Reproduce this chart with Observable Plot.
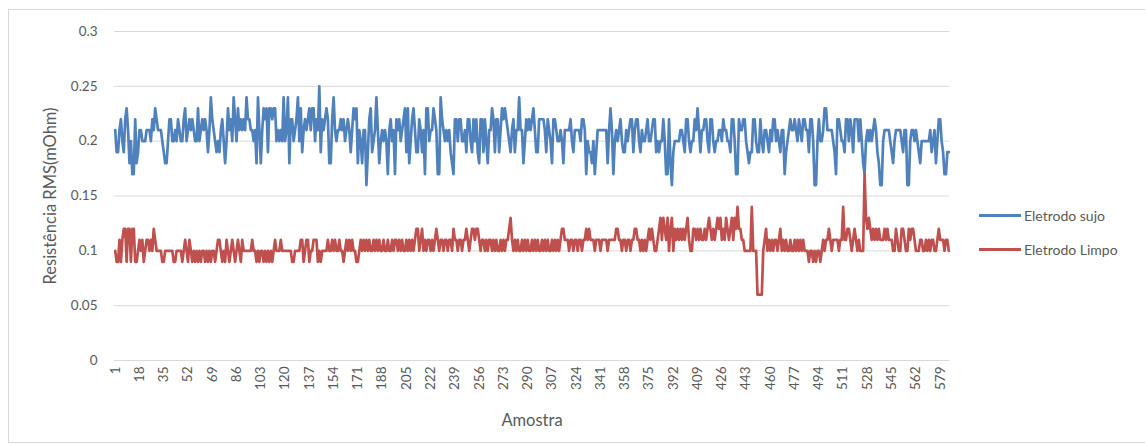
<!DOCTYPE html>
<html><head><meta charset="utf-8">
<script src="https://cdn.jsdelivr.net/npm/d3@7"></script>
<script src="https://cdn.jsdelivr.net/npm/@observablehq/plot@0.6"></script>
<style>
body{margin:0;background:#fff;font-family:Lato,"Open Sans",sans-serif;}
#wrap{position:relative;width:1145px;height:445px;overflow:hidden;}
#frame{position:absolute;left:8px;top:9px;width:1150px;height:434px;border:1px solid #d9d9d9;box-sizing:border-box;}
#chart{position:absolute;left:0;top:0;}
.leg{position:absolute;left:979px;height:18px;font-size:14px;color:#595959;display:flex;align-items:center;white-space:nowrap;}
.leg span{display:inline-block;width:42px;height:3px;margin-right:3px;}
</style></head><body><div id="wrap"><div id="frame"></div><div id="chart"></div></div>
<script>
const seriesNames = ["Eletrodo sujo", "Eletrodo Limpo"];
const seriesColors = ["#4f81bd", "#c0504d"];
const xTicks = [1,18,35,52,69,86,103,120,137,154,171,188,205,222,239,256,273,290,307,324,341,358,375,392,409,426,443,460,477,494,511,528,545,562,579];
const yTicks = [0, 0.05, 0.1, 0.15, 0.2, 0.25, 0.3];

// Eletrodo sujo (samples 1..585)
const sujo = [
0.21,0.19,0.19,0.21,0.22,0.20,0.19,0.22,0.23,0.21,0.18,0.20,0.17,0.17,0.22,0.18,0.19,0.21,0.21,0.20,
0.20,0.20,0.21,0.21,0.21,0.20,0.22,0.21,0.23,0.22,0.21,0.21,0.21,0.20,0.19,0.18,0.18,0.20,0.22,0.22,
0.20,0.20,0.21,0.20,0.22,0.21,0.20,0.20,0.22,0.23,
0.20,0.21,0.22,0.21,0.22,0.21,0.20,0.20,0.23,0.20,0.21,0.22,0.21,0.22,0.21,0.19,0.21,0.24,0.22,0.21,
0.20,0.19,0.20,0.19,0.21,0.22,0.20,0.18,0.20,0.23,0.21,0.22,0.20,0.24,0.22,0.20,0.23,0.21,0.22,0.21,
0.22,0.21,0.24,0.22,0.22,0.21,0.21,0.20,0.21,0.18,0.24,0.21,0.18,0.21,
0.23,0.22,0.23,0.19,0.23,0.23,0.22,0.23,0.23,0.20,0.21,0.20,0.21,0.20,0.24,0.20,0.21,0.24,0.18,0.22,
0.22,0.20,0.21,0.22,0.24,0.20,0.23,0.19,0.21,0.22,0.21,0.22,0.23,0.21,0.23,0.23,0.20,0.22,0.21,0.25,
0.19,0.22,0.21,0.22,0.23,0.22,0.18,0.18,0.22,0.24,0.21,0.20,0.21,
0.21,0.22,0.21,0.22,0.20,0.21,0.22,0.21,0.19,0.21,0.23,0.22,0.23,0.18,0.21,0.20,0.18,0.21,0.21,0.16,
0.19,0.22,0.23,0.19,0.20,0.21,0.24,0.21,0.18,0.20,0.21,0.20,0.21,0.20,0.17,0.21,0.22,0.20,0.21,0.17,
0.22,0.21,0.22,0.20,0.21,0.22,0.23,0.19,0.23,0.18,0.20,0.22,0.23,0.21,
0.19,0.19,0.22,0.21,0.19,0.21,0.17,0.23,0.23,0.20,0.21,0.21,0.23,0.22,0.21,0.17,0.17,0.24,0.22,0.21,
0.20,0.21,0.20,0.21,0.19,0.18,0.17,0.22,0.22,0.20,0.22,0.22,0.20,0.20,0.21,0.19,0.22,0.22,0.20,0.19,
0.22,0.20,0.22,0.19,0.18,0.22,0.22,0.19,0.22,0.20,0.18,0.21,0.21,
0.23,0.22,0.19,0.22,0.22,0.19,0.21,0.23,0.22,0.23,0.22,0.21,0.20,0.19,0.21,0.22,0.19,0.21,0.21,0.24,
0.21,0.21,0.18,0.20,0.22,0.21,0.22,0.21,0.22,0.23,0.21,0.19,0.19,0.22,0.22,0.22,0.22,0.21,0.19,0.22,
0.21,0.20,0.18,0.22,0.22,0.21,0.20,0.20,0.21,0.20,0.18,0.21,0.21,
0.21,0.21,0.22,0.20,0.19,0.21,0.21,0.21,0.21,0.20,0.22,0.22,0.21,0.17,0.20,0.19,0.19,0.18,0.20,0.17,
0.19,0.21,0.21,0.21,0.21,0.21,0.21,0.21,0.18,0.21,0.23,0.21,0.17,0.20,0.21,0.20,0.21,0.22,0.20,0.19,
0.19,0.21,0.20,0.21,0.22,0.22,0.19,0.21,0.22,0.22,0.20,0.19,0.21,0.20,
0.20,0.21,0.22,0.20,0.20,0.21,0.22,0.22,0.19,0.20,0.19,0.20,0.20,0.22,0.20,0.17,0.17,0.22,0.18,0.16,
0.19,0.20,0.20,0.20,0.20,0.21,0.21,0.20,0.19,0.22,0.22,0.20,0.19,0.20,0.20,0.22,0.21,0.23,0.21,0.19,
0.21,0.21,0.22,0.22,0.20,0.19,0.22,0.22,0.20,0.19,0.20,0.20,0.21,
0.21,0.20,0.22,0.21,0.21,0.20,0.20,0.19,0.22,0.22,0.20,0.17,0.17,0.22,0.21,0.21,0.22,0.22,0.20,0.19,
0.18,0.19,0.19,0.22,0.22,0.20,0.19,0.19,0.22,0.20,0.19,0.21,0.21,0.20,0.19,0.21,0.20,0.22,0.22,0.20,
0.21,0.20,0.19,0.21,0.21,0.17,0.19,0.20,0.21,0.22,0.21,0.21,0.22,
0.21,0.20,0.22,0.21,0.20,0.22,0.22,0.21,0.21,0.19,0.22,0.22,0.20,0.16,0.16,0.20,0.22,0.20,0.20,0.21,
0.23,0.23,0.21,0.21,0.21,0.21,0.20,0.19,0.17,0.22,0.22,0.21,0.20,0.20,0.19,0.22,0.22,0.20,0.22,0.21,
0.19,0.22,0.22,0.22,0.20,0.22,0.20,0.18,0.17,0.20,0.21,0.20,0.21,0.20,
0.21,0.22,0.21,0.19,0.18,0.16,0.16,0.20,0.21,0.21,0.21,0.21,0.20,0.19,0.18,0.20,0.21,0.21,0.21,0.21,
0.20,0.19,0.21,0.21,0.16,0.16,0.20,0.21,0.21,0.20,0.21,0.20,0.19,0.18,0.20,0.20,0.20,0.20,0.20,0.20,
0.21,0.19,0.20,0.21,0.18,0.20,0.22,0.22,0.20,0.19,0.17,0.17,0.19,0.19
];

// Eletrodo Limpo (samples 1..585)
const limpo = [
0.10,0.09,0.09,0.11,0.09,0.11,0.12,0.12,0.09,0.12,0.12,0.09,0.12,0.12,0.09,0.09,0.10,0.11,0.10,0.11,
0.09,0.10,0.11,0.11,0.10,0.11,0.10,0.12,0.11,0.10,0.10,0.10,0.10,0.09,0.09,0.10,0.10,0.10,0.10,0.10,
0.10,0.09,0.09,0.10,0.10,0.10,0.10,0.09,0.10,0.11,
0.10,0.09,0.11,0.10,0.09,0.10,0.09,0.10,0.09,0.10,0.09,0.10,0.10,0.09,0.10,0.09,0.10,0.09,0.10,0.10,
0.09,0.10,0.11,0.11,0.10,0.09,0.10,0.09,0.11,0.10,0.09,0.10,0.11,0.10,0.09,0.10,0.11,0.10,0.09,0.11,
0.10,0.10,0.10,0.10,0.10,0.10,0.11,0.10,0.10,0.09,0.10,0.09,0.10,0.10,
0.09,0.10,0.09,0.10,0.09,0.10,0.09,0.10,0.11,0.10,0.10,0.10,0.11,0.10,0.10,0.10,0.10,0.10,0.10,0.10,
0.09,0.09,0.10,0.10,0.10,0.10,0.11,0.11,0.09,0.10,0.11,0.11,0.09,0.10,0.10,0.11,0.11,0.11,0.09,0.10,
0.09,0.10,0.10,0.10,0.10,0.11,0.10,0.10,0.11,0.10,0.11,0.10,0.10,
0.11,0.10,0.10,0.09,0.10,0.11,0.10,0.11,0.10,0.11,0.10,0.10,0.09,0.09,0.10,0.11,0.10,0.11,0.10,0.11,
0.10,0.11,0.10,0.10,0.11,0.10,0.11,0.10,0.11,0.10,0.10,0.11,0.10,0.10,0.11,0.10,0.10,0.11,0.10,0.11,
0.11,0.10,0.11,0.10,0.11,0.10,0.10,0.11,0.10,0.11,0.10,0.11,0.10,0.11,
0.12,0.12,0.10,0.11,0.12,0.10,0.11,0.10,0.11,0.11,0.10,0.11,0.10,0.11,0.12,0.11,0.10,0.11,0.11,0.10,
0.11,0.11,0.10,0.11,0.11,0.10,0.12,0.11,0.11,0.10,0.11,0.11,0.10,0.11,0.11,0.12,0.11,0.10,0.11,0.12,
0.12,0.11,0.12,0.12,0.11,0.10,0.11,0.11,0.10,0.11,0.10,0.11,0.11,
0.10,0.11,0.10,0.11,0.10,0.10,0.11,0.10,0.11,0.10,0.11,0.11,0.12,0.13,0.11,0.10,0.11,0.10,0.11,0.10,
0.10,0.11,0.10,0.11,0.10,0.11,0.10,0.10,0.11,0.10,0.11,0.10,0.11,0.10,0.10,0.11,0.10,0.11,0.10,0.11,
0.10,0.10,0.11,0.10,0.11,0.10,0.11,0.10,0.11,0.12,0.12,0.11,0.11,
0.11,0.10,0.11,0.11,0.10,0.11,0.11,0.10,0.11,0.11,0.10,0.11,0.11,0.12,0.11,0.12,0.11,0.11,0.11,0.10,
0.11,0.11,0.11,0.10,0.11,0.11,0.11,0.11,0.10,0.11,0.11,0.11,0.11,0.11,0.12,0.12,0.11,0.11,0.10,0.11,
0.11,0.10,0.11,0.11,0.10,0.11,0.11,0.12,0.12,0.11,0.11,0.10,0.11,0.10,
0.11,0.10,0.11,0.12,0.11,0.12,0.11,0.10,0.10,0.11,0.12,0.13,0.11,0.13,0.12,0.11,0.13,0.10,0.12,0.13,
0.10,0.12,0.11,0.12,0.11,0.12,0.11,0.12,0.11,0.12,0.13,0.11,0.10,0.10,0.12,0.12,0.11,0.12,0.11,0.12,
0.11,0.11,0.12,0.11,0.12,0.13,0.12,0.11,0.12,0.11,0.12,0.13,0.12,
0.13,0.11,0.12,0.11,0.13,0.12,0.11,0.12,0.13,0.11,0.13,0.12,0.14,0.12,0.12,0.11,0.11,0.10,0.10,0.10,
0.10,0.10,0.14,0.10,0.10,0.10,0.06,0.06,0.06,0.06,0.10,0.11,0.12,0.10,0.11,0.10,0.11,0.10,0.11,0.11,
0.10,0.11,0.12,0.10,0.11,0.10,0.11,0.10,0.10,0.11,0.10,0.10,0.11,
0.10,0.11,0.10,0.11,0.10,0.11,0.10,0.10,0.10,0.09,0.10,0.10,0.09,0.10,0.09,0.10,0.10,0.09,0.10,0.11,
0.10,0.11,0.11,0.12,0.11,0.10,0.11,0.11,0.11,0.11,0.10,0.11,0.11,0.14,0.11,0.11,0.12,0.12,0.11,0.10,
0.11,0.12,0.11,0.10,0.11,0.10,0.10,0.10,0.17,0.13,0.12,0.13,0.12,0.11,
0.12,0.11,0.12,0.11,0.12,0.11,0.11,0.11,0.12,0.11,0.12,0.11,0.11,0.11,0.10,0.10,0.12,0.11,0.10,0.10,
0.12,0.12,0.11,0.10,0.10,0.12,0.11,0.12,0.12,0.11,0.10,0.10,0.10,0.11,0.11,0.10,0.10,0.11,0.10,0.11,
0.10,0.11,0.11,0.10,0.10,0.11,0.12,0.11,0.11,0.11,0.10,0.11,0.11,0.10
];

const data = [];
sujo.forEach((v, i) => data.push({amostra: i + 1, valor: v, serie: seriesNames[0]}));
limpo.forEach((v, i) => data.push({amostra: i + 1, valor: v, serie: seriesNames[1]}));

const chart = Plot.plot({
  width: 1145, height: 445,
  marginLeft: 114, marginRight: 196, marginTop: 31, marginBottom: 85,
  style: {fontFamily: "Lato, 'Open Sans', sans-serif", fontSize: "13.5px", color: "#595959", background: "transparent"},
  x: {domain: [0.5, sujo.length + 0.5]},
  y: {domain: [0, 0.3]},
  color: {domain: seriesNames, range: seriesColors},
  marks: [
    Plot.gridY(yTicks, {stroke: "#d9d9d9", strokeOpacity: 1, strokeWidth: 1}),
    Plot.axisY(yTicks, {tickSize: 0, tickPadding: 17, tickFormat: d => String(+d.toFixed(2)),
      label: "Resistência RMS(mOhm)", labelAnchor: "center", labelArrow: "none", labelOffset: 70}),
    Plot.axisX(xTicks, {tickSize: 0, tickRotate: -90, tickPadding: 6,
      label: "Amostra", labelAnchor: "center", labelArrow: "none", labelOffset: 65}),
    Plot.line(data, {x: "amostra", y: "valor", z: "serie", stroke: "serie", strokeWidth: 2.7, strokeLinejoin: "round", strokeLinecap: "round"})
  ]
});
const svg = d3.select(chart);
svg.selectAll('g[aria-label="y-axis label"], g[aria-label="x-axis label"]').attr("font-size", 16.5);
document.getElementById("chart").appendChild(chart);

const wrap = document.getElementById("wrap");
const legTops = [206, 240];
seriesNames.forEach((name, i) => {
  const d = document.createElement("div");
  d.className = "leg";
  d.style.top = legTops[i] + "px";
  const sw = document.createElement("span");
  sw.style.background = seriesColors[i];
  d.appendChild(sw);
  d.appendChild(document.createTextNode(name));
  wrap.appendChild(d);
});
</script></body></html>
